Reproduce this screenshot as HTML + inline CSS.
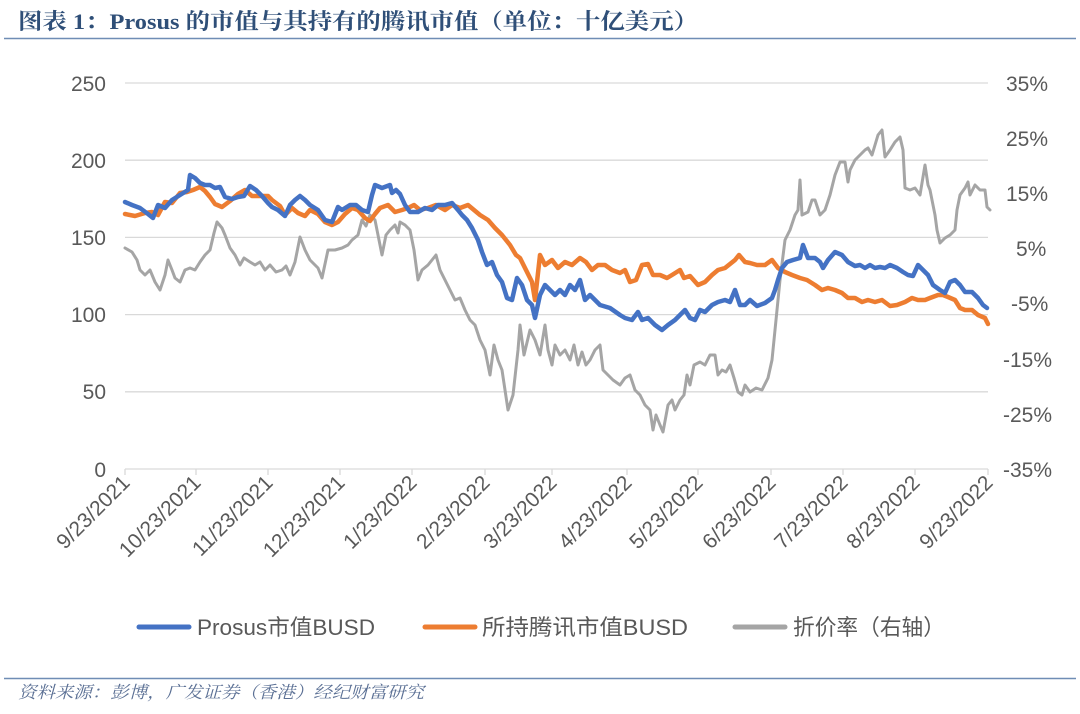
<!DOCTYPE html>
<html><head><meta charset="utf-8"><style>
body{margin:0;background:#fff;}
svg{display:block;}
</style></head><body>
<svg width="1080" height="714" viewBox="0 0 1080 714" xmlns="http://www.w3.org/2000/svg">
<text x="18" y="29" font-family="'Liberation Serif','Noto Serif CJK SC',serif" font-weight="bold" font-size="22" fill="#2f4f78" textLength="680" lengthAdjust="spacingAndGlyphs">图表 1：Prosus 的市值与其持有的腾讯市值（单位：十亿美元）</text>
<line x1="4" y1="38.5" x2="1076" y2="38.5" stroke="#6f8db5" stroke-width="1.5"/>
<g stroke="#d9d9d9" stroke-width="1.3">
<line x1="125" y1="83" x2="988" y2="83"/><line x1="125" y1="160.2" x2="988" y2="160.2"/><line x1="125" y1="237.4" x2="988" y2="237.4"/><line x1="125" y1="314.6" x2="988" y2="314.6"/><line x1="125" y1="391.8" x2="988" y2="391.8"/><line x1="125" y1="469" x2="988" y2="469"/>
</g>
<g stroke="#d9d9d9" stroke-width="1.3">
<line x1="125" y1="469" x2="125" y2="475"/><line x1="196" y1="469" x2="196" y2="475"/><line x1="268" y1="469" x2="268" y2="475"/><line x1="340" y1="469" x2="340" y2="475"/><line x1="412" y1="469" x2="412" y2="475"/><line x1="485" y1="469" x2="485" y2="475"/><line x1="552" y1="469" x2="552" y2="475"/><line x1="627" y1="469" x2="627" y2="475"/><line x1="698" y1="469" x2="698" y2="475"/><line x1="771" y1="469" x2="771" y2="475"/><line x1="843" y1="469" x2="843" y2="475"/><line x1="915" y1="469" x2="915" y2="475"/><line x1="988" y1="469" x2="988" y2="475"/>
</g>
<g font-family="'Liberation Sans',sans-serif" font-size="21" fill="#595959" text-anchor="end">
<text x="106" y="91">250</text><text x="106" y="168">200</text><text x="106" y="245">150</text><text x="106" y="322">100</text><text x="106" y="399">50</text><text x="106" y="477">0</text>
</g>
<g font-family="'Liberation Sans',sans-serif" font-size="21" fill="#595959" text-anchor="start">
<text x="1006" y="91">35%</text><text x="1006" y="146">25%</text><text x="1006" y="201">15%</text><text x="1016" y="256">5%</text><text x="1011" y="311">-5%</text><text x="1003" y="367">-15%</text><text x="1003" y="422">-25%</text><text x="1003" y="477">-35%</text>
</g>
<g font-family="'Liberation Sans',sans-serif" font-size="21" fill="#595959" text-anchor="end">
<text transform="translate(131,484) rotate(-45)">9/23/2021</text>
<text transform="translate(202,484) rotate(-45)">10/23/2021</text>
<text transform="translate(274,484) rotate(-45)">11/23/2021</text>
<text transform="translate(346,484) rotate(-45)">12/23/2021</text>
<text transform="translate(418,484) rotate(-45)">1/23/2022</text>
<text transform="translate(491,484) rotate(-45)">2/23/2022</text>
<text transform="translate(558,484) rotate(-45)">3/23/2022</text>
<text transform="translate(633,484) rotate(-45)">4/23/2022</text>
<text transform="translate(704,484) rotate(-45)">5/23/2022</text>
<text transform="translate(777,484) rotate(-45)">6/23/2022</text>
<text transform="translate(849,484) rotate(-45)">7/23/2022</text>
<text transform="translate(921,484) rotate(-45)">8/23/2022</text>
<text transform="translate(994,484) rotate(-45)">9/23/2022</text>
</g>
<g fill="none" stroke-linejoin="round" stroke-linecap="round">
<polyline stroke="#a5a5a5" stroke-width="3" points="125,248 132,252 137,260 140,270 145,275 150,270 155,282 160,290 165,275 168,260 172,270 175,278 180,282 185,270 190,268 195,270 200,262 205,255 210,250 214,233 217,222 222,228 225,235 230,248 235,255 240,265 244,258 250,262 255,265 260,262 265,270 270,265 276,272 282,270 286,266 290,275 295,262 300,237 305,250 310,260 318,268 322,278 328,250 335,250 342,248 348,245 352,240 358,235 362,220 366,226 370,215 375,220 380,245 382,255 386,235 390,230 395,225 398,233 400,222 405,225 410,230 414,250 418,280 422,270 428,265 432,260 436,255 440,270 445,280 450,290 455,300 460,298 465,310 470,320 475,325 480,340 485,350 490,375 494,345 498,360 502,370 505,390 508,410 513,395 518,350 520,325 524,355 530,330 535,340 540,355 545,325 548,350 552,365 555,345 560,355 565,350 570,360 574,345 578,365 582,352 586,365 590,360 595,350 600,345 603,370 608,375 613,380 620,385 625,378 630,375 635,390 640,395 645,405 650,410 653,430 656,415 660,425 663,432 668,405 672,400 675,410 680,400 684,395 687,375 690,385 694,365 700,362 705,365 710,355 715,355 718,375 722,370 726,372 730,365 734,378 738,392 742,395 745,385 750,392 756,388 762,390 768,378 772,360 776,320 780,280 785,240 790,230 795,215 798,210 800,180 802,215 808,212 812,200 815,200 820,215 825,210 830,195 835,175 840,162 845,162 848,182 850,170 855,160 860,155 865,150 868,148 872,155 875,145 878,135 882,130 885,157 890,150 895,142 900,137 903,150 905,188 910,190 915,188 920,195 925,165 928,185 930,190 935,215 937,230 940,243 945,238 950,235 955,230 957,210 960,195 965,188 968,182 970,195 975,185 980,190 985,190 987,207 990,210"/>
<polyline stroke="#ed7d31" stroke-width="4.5" points="125,214 135,216 145,213 152,212 158,215 165,202 172,203 180,193 187,192 193,190 200,187 205,191 210,197 215,204 222,207 230,201 238,194 245,190 252,196 260,196 268,196 272,200 280,206 285,215 292,208 298,213 305,216 310,210 318,214 325,222 332,225 338,222 345,214 352,208 358,210 365,218 370,221 375,214 380,208 388,205 395,212 402,210 408,208 414,205 420,210 428,208 436,205 445,210 452,205 460,208 468,205 474,210 480,215 488,220 495,228 502,235 510,245 516,255 520,258 526,270 532,282 535,300 540,255 545,265 552,260 558,268 565,262 572,265 580,258 586,262 592,270 598,265 605,265 612,270 620,273 625,270 630,282 636,280 642,265 648,264 653,275 660,275 667,278 672,275 680,270 684,278 690,276 698,285 705,282 712,275 718,270 725,268 730,264 735,260 739,255 745,262 750,263 757,265 765,265 772,260 778,268 785,272 792,275 800,278 807,280 815,285 822,290 828,288 835,290 842,293 848,298 855,298 862,302 868,300 875,302 882,300 890,306 897,305 905,302 912,298 918,300 925,300 930,298 938,295 943,295 948,297 955,300 960,308 965,310 972,310 978,315 985,318 988,324"/>
<polyline stroke="#4472c4" stroke-width="4.5" points="125,202 132,205 140,208 148,214 153,218 158,205 165,208 172,200 180,195 188,190 190,175 195,178 200,183 205,185 210,185 215,188 220,187 225,197 232,199 238,197 244,196 250,186 256,190 262,196 268,203 272,207 278,210 285,216 290,205 295,200 300,196 305,200 310,205 318,210 325,220 332,222 338,207 342,210 350,205 356,205 362,210 368,212 372,195 375,185 382,188 390,185 392,193 396,190 400,194 405,205 410,212 418,212 425,208 432,210 438,205 445,205 452,203 458,210 462,215 467,220 472,228 478,240 482,252 487,265 492,262 497,275 502,282 507,298 512,300 517,278 522,285 527,300 532,305 535,318 540,295 545,285 550,290 555,295 560,290 565,295 570,285 575,290 580,280 585,300 590,295 595,300 600,305 610,308 620,315 625,318 632,320 638,312 642,320 648,318 655,325 662,330 668,325 675,320 680,315 685,310 690,318 695,320 700,310 705,312 712,305 718,302 725,300 730,302 735,290 740,305 745,305 750,300 757,306 765,303 772,298 775,290 778,280 782,268 787,262 793,260 800,258 803,245 808,258 815,258 820,262 823,268 828,260 835,252 842,255 848,262 855,266 860,265 865,268 870,265 875,268 880,267 885,268 890,265 897,268 903,272 908,275 913,276 918,265 923,270 928,275 933,285 940,290 945,293 950,282 955,280 960,285 965,292 972,292 978,298 983,305 987,308"/>
</g>
<g font-family="'Liberation Sans','Noto Sans CJK SC',sans-serif" font-size="22" fill="#595959">
<line x1="139" y1="627" x2="189" y2="627" stroke="#4472c4" stroke-width="5" stroke-linecap="round"/>
<text x="197" y="635" textLength="178" lengthAdjust="spacingAndGlyphs">Prosus市值BUSD</text>
<line x1="425" y1="627" x2="475" y2="627" stroke="#ed7d31" stroke-width="5" stroke-linecap="round"/>
<text x="482" y="635" textLength="206" lengthAdjust="spacingAndGlyphs">所持腾讯市值BUSD</text>
<line x1="735" y1="627" x2="785" y2="627" stroke="#a5a5a5" stroke-width="5" stroke-linecap="round"/>
<text x="793" y="635" textLength="152" lengthAdjust="spacingAndGlyphs">折价率（右轴）</text>
</g>
<line x1="4" y1="678.5" x2="1076" y2="678.5" stroke="#6f8db5" stroke-width="1.5"/>
<text x="18" y="698" font-family="'Liberation Serif','Noto Serif CJK SC',serif" font-style="italic" font-size="17" fill="#5a6f94" textLength="406" lengthAdjust="spacingAndGlyphs">资料来源：彭博，广发证券（香港）经纪财富研究</text>
</svg>
</body></html>
